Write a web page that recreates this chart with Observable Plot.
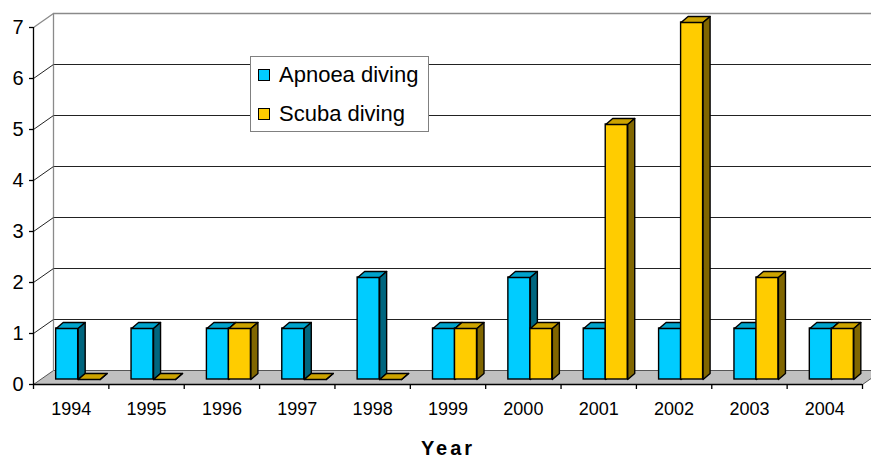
<!DOCTYPE html>
<html><head><meta charset="utf-8">
<script src="https://cdn.jsdelivr.net/npm/d3@7"></script>
<script src="https://cdn.jsdelivr.net/npm/@observablehq/plot@0.6"></script>
<style>
body{margin:0;background:#fff;overflow:hidden;font-family:"Liberation Sans",Arial,sans-serif}
#wrap{position:relative;width:871px;height:460px;overflow:hidden}
#legend{position:absolute;left:250px;top:56px;width:177px;height:74px;border:1px solid #808080;background:#fff;}
.item{position:absolute;left:7px;height:24px;display:flex;align-items:center;font-size:22px;color:#000;white-space:nowrap}
.sw{width:10px;height:10px;border:1.5px solid #000;margin-right:9px}
</style></head><body><div id="wrap"><div id="legend"></div></div>
<script>
// ---- data ----
const years = ["1994","1995","1996","1997","1998","1999","2000","2001","2002","2003","2004"];
const apnoea = [1,1,1,1,2,1,2,1,1,1,1];
const scuba  = [0,0,1,0,0,1,1,5,7,2,1];
const seriesNames = ["Apnoea diving","Scuba diving"];
const yTicks = [0,1,2,3,4,5,6,7];
const xTitle = "Year";
const frontColors = ["#00CCFF","#FFCC00"];
const topColors   = ["#00A3CC","#CCA300"];
const sideColors  = ["#00667F","#806600"];

// ---- layout ----
const W = 871, H = 460, mL = 33, mR = 9, mT = 27, mB = 76;
const nCat = years.length;
const yMax = yTicks[yTicks.length-1];
const kx = nCat / (W - mL - mR);   // data units per pixel (x)
const ky = yMax / (H - mT - mB);   // data units per pixel (y)
const wdx = 20*kx, wdy = 14*ky;    // wall depth
const bw = 22*kx;                  // bar width
const bdx = 7*kx, bdy = 6*ky;      // bar depth

const seriesVals = [apnoea, scuba];
const fronts = [[],[]], tops = [[],[]], sides = [[],[]];
years.forEach((yr,i)=>{
  seriesVals.forEach((vals,s)=>{
    const v = vals[i], c = i + 0.5;
    const x1 = s === 0 ? c - bw : c, x2 = x1 + bw;
    fronts[s].push({x1, x2, v});
    const tid = "t"+s+"-"+i, sid = "s"+s+"-"+i;
    [[x1,v],[x2,v],[x2+bdx,v+bdy],[x1+bdx,v+bdy],[x1,v]].forEach(p=>tops[s].push({id:tid,x:p[0],y:p[1]}));
    [[x2,0],[x2,v],[x2+bdx,v+bdy],[x2+bdx,bdy],[x2,0]].forEach(p=>sides[s].push({id:sid,x:p[0],y:p[1]}));
  });
});
const floor = [[0,0],[nCat,0],[nCat+wdx,wdy],[wdx,wdy],[0,0]].map(p=>({x:p[0],y:p[1]}));

const barMarks = [];
[0,1].forEach(s=>{
  barMarks.push(Plot.rect(fronts[s], {x1:"x1", x2:"x2", y1:0, y2:"v", fill:frontColors[s], stroke:"#000", strokeWidth:1.4, dx:7, dy:-5}));
  barMarks.push(Plot.line(tops[s], {x:"x", y:"y", z:"id", fill:topColors[s], stroke:"#000", strokeWidth:1.4, strokeLinejoin:"round", dx:7, dy:-5}));
  barMarks.push(Plot.line(sides[s], {x:"x", y:"y", z:"id", fill:sideColors[s], stroke:"#000", strokeWidth:1.4, strokeLinejoin:"round", dx:7, dy:-5}));
});

const chart = Plot.plot({
  width: W, height: H,
  marginTop: mT, marginBottom: mB, marginLeft: mL, marginRight: mR,
  style: {fontFamily: '"Liberation Sans", Arial, sans-serif', background: "#fff", color: "#000"},
  x: {type: "linear", domain: [0, nCat], axis: null},
  y: {type: "linear", domain: [0, yMax], axis: null},
  marks: [
    // back wall gridlines
    Plot.ruleY(yTicks.filter(d=>d>0 && d<yMax), {x1: wdx, x2: nCat+wdx, y: d=>d+wdy, stroke:"#222", strokeWidth:1}),
    Plot.ruleY([yMax], {x1: wdx, x2: nCat+wdx, y: d=>d+wdy, stroke:"#8a8a8a", strokeWidth:1.3}),
    Plot.ruleX([wdx], {y1: wdy, y2: yMax+wdy, stroke:"#8a8a8a", strokeWidth:1.3}),
    // side wall diagonals
    Plot.link(yTicks.filter(d=>d>0 && d<yMax), {x1:0, y1:d=>d, x2:wdx, y2:d=>d+wdy, stroke:"#222", strokeWidth:1}),
    Plot.link([yMax], {x1:0, y1:d=>d, x2:wdx, y2:d=>d+wdy, stroke:"#8a8a8a", strokeWidth:1.3}),
    // floor
    Plot.line(floor, {x:"x", y:"y", fill:"#C0C0C0", stroke:"#555", strokeWidth:1}),
    // bars
    ...barMarks,
    // front axes
    Plot.ruleX([0], {y1:0, y2:yMax, stroke:"#000", strokeWidth:1.3}),
    Plot.ruleY([0], {x1:0, x2:nCat, stroke:"#000", strokeWidth:1.3}),
    Plot.ruleY(yTicks, {x1:-4*kx, x2:0, stroke:"#000", strokeWidth:1.3}),
    Plot.ruleX(d3.range(nCat+1), {y1:0, y2:-5*ky, stroke:"#000", strokeWidth:1.3}),
    Plot.text(yTicks, {x:0, y:d=>d, dx:-10, textAnchor:"end", fontSize:20, fill:"#000"}),
    Plot.text(years, {x:(d,i)=>i+0.5, y:0, dy:25, fontSize:18, fill:"#000"}),
    Plot.text([xTitle], {x:nCat/2, y:0, dy:64, fontSize:20, fontWeight:"bold", fill:"#000"})
  ]
});
chart.querySelectorAll("text").forEach(t=>{
  if (t.textContent === xTitle) t.style.letterSpacing = "3px";
});
document.getElementById("wrap").prepend(chart);

// legend
const lg = document.getElementById("legend");
const itemTops = [6, 45];
seriesNames.forEach((name,s)=>{
  const it = document.createElement("div");
  it.className = "item"; it.style.top = itemTops[s] + "px";
  const sw = document.createElement("span");
  sw.className = "sw"; sw.style.background = frontColors[s];
  it.appendChild(sw);
  it.appendChild(document.createTextNode(name));
  lg.appendChild(it);
});
</script></body></html>
